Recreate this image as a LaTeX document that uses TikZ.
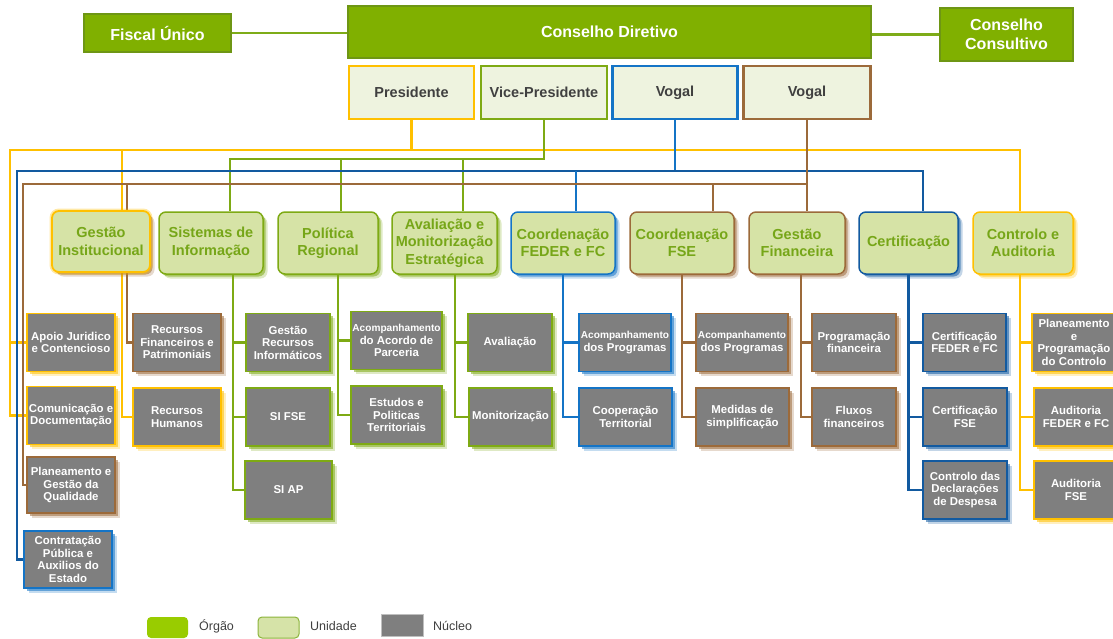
\documentclass[tikz,border=0pt]{standalone}
\usepackage{fontspec}
\setmainfont{Liberation Sans}
\usetikzlibrary{shadows}

% palette
\definecolor{orgF}{RGB}{128,176,0}
\definecolor{orgD}{RGB}{110,150,20}
\definecolor{lnkG}{RGB}{126,172,24}
\definecolor{memF}{RGB}{238,243,223}
\definecolor{uniF}{RGB}{214,227,166}
\definecolor{uniT}{RGB}{118,166,24}
\definecolor{nucF}{RGB}{127,127,127}
\definecolor{txtD}{RGB}{64,64,64}
\definecolor{yel}{RGB}{255,192,0}
\definecolor{grn}{RGB}{126,170,20}
\definecolor{bluA}{RGB}{20,116,198}
\definecolor{bluB}{RGB}{18,90,160}
\definecolor{brn}{RGB}{156,106,58}
\definecolor{legO}{RGB}{153,204,0}
\definecolor{legU}{RGB}{214,227,168}
\definecolor{legUd}{RGB}{140,180,58}

\pgfdeclarelayer{paper}
\pgfdeclarelayer{bg}
\pgfsetlayers{paper,bg,main}

\tikzset{
  cell/.style={rectangle, inner sep=0pt, align=center},
  softshadow/.style={
    drop shadow={fill=#1, opacity=.25, shadow xshift=4.5pt, shadow yshift=-4.5pt},
    drop shadow={fill=#1, opacity=.55, shadow xshift=2.5pt, shadow yshift=-2.5pt}},
  orgao/.style={cell, fill=orgF, draw=orgD, line width=1.4pt, text=white,
    font=\fontsize{16}{19}\selectfont\bfseries},
  membro/.style={cell, fill=memF, draw=#1, line width=2.4pt, text=txtD,
    minimum height=53pt, font=\fontsize{14.5}{17}\selectfont\bfseries},
  unidade/.style={cell, rounded corners=7pt, fill=uniF, draw=#1, line width=1.5pt,
    text=uniT, minimum height=62pt, font=\fontsize{14.5}{17.5}\selectfont\bfseries,
    softshadow=#1},
  nucleo/.style={cell, fill=nucF, draw=#1, line width=1.2pt, text=white,
    minimum height=58pt, font=\fontsize{11.4}{12.5}\selectfont\bfseries,
    softshadow=#1},
  lnk/.style={draw=#1, line width=2.2pt},
  legtxt/.style={anchor=west, inner sep=0pt, text=txtD, font=\fontsize{12.5}{14}\selectfont},
}

\newcommand{\acomp}{\fontsize{10.1}{12}\selectfont Acompanhamento}

\begin{document}
\begin{tikzpicture}[x=1pt, y=-1pt]
\begin{pgfonlayer}{paper}
  \fill[white] (0,0) rectangle (1113,639);
\end{pgfonlayer}
\useasboundingbox (0,0) rectangle (1113,639);

% --- governing bodies
\node[orgao, minimum width=147pt, minimum height=38pt] (fiscal) at (157.5,33) {Fiscal Único};
\node[orgao, minimum width=523pt, minimum height=52pt] (cdir) at (609.5,32) {Conselho Diretivo};
\node[orgao, minimum width=133pt, minimum height=53pt] (ccons) at (1006.5,34.5) {Conselho\\Consultivo};

% --- board members
\node[membro=yel,  minimum width=125pt] (pres) at (411.5,92.5) {Presidente};
\node[membro=grn,  minimum width=126pt] (vice) at (544,92.5) {Vice-Presidente};
\node[membro=bluA, minimum width=125pt] (vogA) at (675,92.5) {Vogal};
\node[membro=brn,  minimum width=127pt] (vogB) at (807,92.5) {Vogal};

% --- units
\node[unidade=brn, draw=yel, line width=1.8pt, minimum width=98pt, minimum height=61pt,
      preaction={draw=yel, opacity=.35, line width=5pt}] (gi) at (101,241.5) {Gestão\\Institucional};
\node[unidade=grn,  minimum width=104pt] (si)     at (211,243)   {Sistemas de\\Informação};
\node[unidade=grn,  minimum width=100pt] (pr)     at (328,243)   {Política\\Regional};
\node[unidade=grn,  minimum width=105pt] (ame)    at (444.5,243) {Avaliação e\\Monitorização\\Estratégica};
\node[unidade=bluA, minimum width=104pt] (cfeder) at (563,243)   {Coordenação\\FEDER e FC};
\node[unidade=brn,  minimum width=104pt] (cfse)   at (682,243)   {Coordenação\\FSE};
\node[unidade=brn,  minimum width=96pt]  (gf)     at (797,243)   {Gestão\\Financeira};
\node[unidade=bluB, minimum width=99pt]  (cert)   at (908.5,243) {Certificação};
\node[unidade=yel,  minimum width=100pt] (ca)     at (1023,243)  {Controlo e\\Auditoria};

% --- nuclei: first row
\node[nucleo=yel,  minimum width=88pt] (apoio) at (71,342.5)   {Apoio Juridico\\e Contencioso};
\node[nucleo=brn,  minimum width=88pt] (rfp)   at (177,342.5)  {Recursos\\Financeiros e\\Patrimoniais};
\node[nucleo=grn,  minimum width=84pt] (gri)   at (288,342.5)  {Gestão\\Recursos\\Informáticos};
\node[nucleo=grn,  minimum width=91pt] (aap)   at (396.5,340.5){\acomp\\do Acordo de\\Parceria};
\node[nucleo=grn,  minimum width=84pt] (aval)  at (510,342.5)  {Avaliação};
\node[nucleo=bluA, minimum width=92pt] (apF)   at (625,342.5)  {\acomp\\dos Programas};
\node[nucleo=brn,  minimum width=92pt] (apS)   at (742,342.5)  {\acomp\\dos Programas};
\node[nucleo=brn,  minimum width=84pt] (progf) at (854,342.5)  {Programação\\financeira};
\node[nucleo=bluB, minimum width=83pt] (certF) at (964.5,342.5){Certificação\\FEDER e FC};
\node[nucleo=yel,  minimum width=84pt] (ppc)   at (1074,342.5) {Planeamento\\e\\Programação\\do Controlo};

% --- nuclei: second row
\node[nucleo=yel,  minimum width=88pt] (com)     at (71,415.5)   {Comunicação e\\Documentação};
\node[nucleo=yel,  minimum width=88pt] (rh)      at (177,417)    {Recursos\\Humanos};
\node[nucleo=grn,  minimum width=84pt] (sifse)   at (288,417)    {SI FSE};
\node[nucleo=grn,  minimum width=91pt] (epT)     at (396.5,415)  {Estudos e\\Politicas\\Territoriais};
\node[nucleo=grn,  minimum width=83pt] (monit)   at (510.5,417)  {Monitorização};
\node[nucleo=bluA, minimum width=93pt] (coop)    at (625.5,417)  {Cooperação\\Territorial};
\node[nucleo=brn,  minimum width=93pt] (medS)    at (742.5,417)  {Medidas de\\simplificação};
\node[nucleo=brn,  minimum width=84pt] (fluxos)  at (854,417)    {Fluxos\\financeiros};
\node[nucleo=bluB, minimum width=84pt] (certFSE) at (965,417)    {Certificação\\FSE};
\node[nucleo=yel,  minimum width=84pt] (audF)    at (1076,417)   {Auditoria\\FEDER e FC};

% --- nuclei: third and fourth rows
\node[nucleo=brn,  minimum width=88pt, minimum height=56pt] (pgq) at (71,485) {Planeamento e\\Gestão da\\Qualidade};
\node[nucleo=grn,  minimum width=87pt] (siap)   at (288.5,490) {SI AP};
\node[nucleo=bluB, minimum width=84pt] (cdd)    at (965,490)   {Controlo das\\Declarações\\de Despesa};
\node[nucleo=yel,  minimum width=84pt] (audFSE) at (1076,490)  {Auditoria\\FSE};
\node[nucleo=bluA, minimum width=88pt, minimum height=57pt] (cpae) at (68,559.5) {Contratação\\Pública e\\Auxilios do\\Estado};

% --- legend
\node[cell, rounded corners=4pt, fill=legO, minimum width=41pt, minimum height=21pt] (lgO) at (167.5,627.5) {};
\node[legtxt] (lgOt) at (199,626) {Órgão};
\node[cell, rounded corners=4pt, fill=legU, draw=legUd, line width=1pt, minimum width=41pt, minimum height=21pt] (lgU) at (278.5,627.5) {};
\node[legtxt] (lgUt) at (310,626) {Unidade};
\node[cell, fill=nucF, draw=black!25, line width=.6pt, minimum width=42pt, minimum height=22pt] (lgN) at (402,625.5) {};
\node[legtxt] (lgNt) at (433,626) {Núcleo};

% --- connectors
\begin{pgfonlayer}{bg}
  \coordinate (yL) at (10,150);  \coordinate (yG) at (122,150); \coordinate (yR) at (1020,150);
  \coordinate (gL) at (230,159); \coordinate (gP) at (341,159); \coordinate (gA) at (463,159);
  \coordinate (bL) at (17,171);  \coordinate (bF) at (576,171); \coordinate (bR) at (923,171);
  \coordinate (rL) at (23,184);  \coordinate (rG) at (127,184); \coordinate (rS) at (713,184);
  \coordinate (siT) at (233,274); \coordinate (prT) at (338,274); \coordinate (ameT) at (455,274);
  \coordinate (gfT) at (801,274); \coordinate (caT) at (1020,274);

  % council links
  \draw[lnk=lnkG] (fiscal.east) -- (fiscal.east -| cdir.west);
  \draw[lnk=lnkG] (ccons.west) -- (ccons.west -| cdir.east);

  % president
  \draw[lnk=yel] (pres.south) -- (pres.south |- yL);
  \draw[lnk=yel] (com.west) -| (yL) -- (yR) -- (yR |- ca.north);
  \draw[lnk=yel] (apoio.west) -- (apoio.west -| yL);
  \draw[lnk=yel] (rh.west) -| (yG);
  \draw[lnk=yel] (ppc.west) -| (caT);
  \draw[lnk=yel] (audF.west) -| (caT);
  \draw[lnk=yel] (audFSE.west) -| (caT);

  % vice-president
  \draw[lnk=grn] (vice.south) |- (gL) -- (gL |- si.north);
  \draw[lnk=grn] (gP) -- (gP |- pr.north);
  \draw[lnk=grn] (gA) -- (gA |- ame.north);
  \draw[lnk=grn] (gri.west) -| (siT);
  \draw[lnk=grn] (sifse.west) -| (siT);
  \draw[lnk=grn] (siap.west) -| (siT);
  \draw[lnk=grn] (aap.west) -| (prT);
  \draw[lnk=grn] (epT.west) -| (prT);
  \draw[lnk=grn] (aval.west) -| (ameT);
  \draw[lnk=grn] (monit.west) -| (ameT);

  % first member
  \draw[lnk=bluA] (vogA.south) -- (vogA.south |- bL);
  \draw[lnk=bluB] (cpae.west) -| (bL) -- (bR) -- (bR |- cert.north);
  \draw[lnk=bluA] (bF) -- (bF |- cfeder.north);
  \draw[lnk=bluA] (apF.west) -| (cfeder.south);
  \draw[lnk=bluA] (coop.west) -| (cfeder.south);
  \draw[lnk=bluB] (certF.west) -| (cert.south);
  \draw[lnk=bluB] (certFSE.west) -| (cert.south);
  \draw[lnk=bluB] (cdd.west) -| (cert.south);

  % second member
  \draw[lnk=brn] (vogB.south) -- (vogB.south |- gf.north);
  \draw[lnk=brn] (pgq.west) -| (rL) -- (rL -| vogB.south);
  \draw[lnk=brn] (rfp.west) -| (rG);
  \draw[lnk=brn] (rS) -- (rS |- cfse.north);
  \draw[lnk=brn] (apS.west) -| (cfse.south);
  \draw[lnk=brn] (medS.west) -| (cfse.south);
  \draw[lnk=brn] (progf.west) -| (gfT);
  \draw[lnk=brn] (fluxos.west) -| (gfT);
\end{pgfonlayer}
\end{tikzpicture}
\end{document}
